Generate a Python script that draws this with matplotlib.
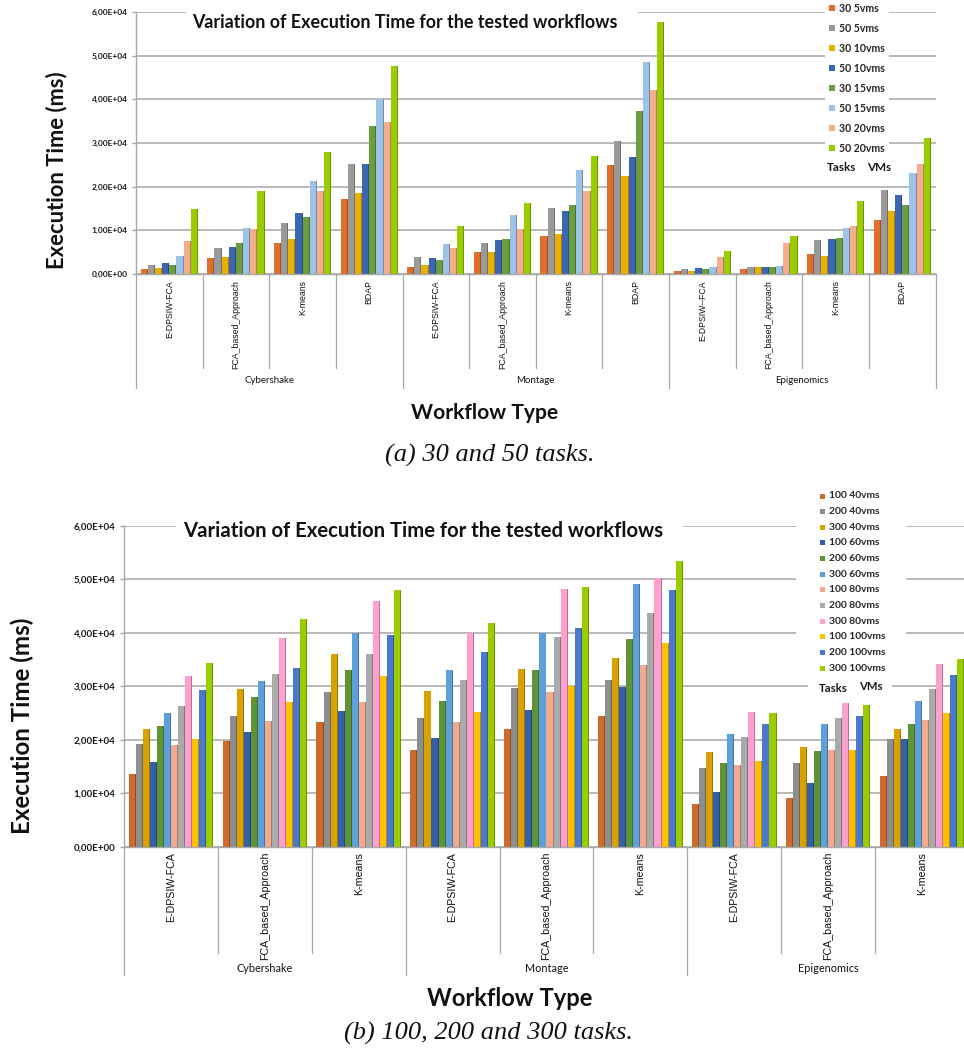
import matplotlib
matplotlib.use("Agg")
import matplotlib.pyplot as plt
from matplotlib.patches import Rectangle
from matplotlib.lines import Line2D
from matplotlib.ticker import FixedLocator, FuncFormatter
from matplotlib.colors import to_rgb
import numpy as np

W, H = 964, 1048

# ---------------------------------------------------------------- data
workflows = ["Cybershake", "Montage", "Epigenomics"]

algos_a = ["E-DPSIW-FCA", "FCA_based_Approach", "K-means", "BDAP",
           "E-DPSIW-FCA", "FCA_based_Approach", "K-means", "BDAP",
           "E-DPSIW--FCA", "FCA_based_Approach", "K-means", "BDAP"]
algos_b = ["E-DPSIW-FCA", "FCA_based_Approach", "K-means",
           "E-DPSIW-FCA", "FCA_based_Approach", "K-means",
           "E-DPSIW-FCA", "FCA_based_Approach", "K-means"]

# (a) 30 and 50 tasks -- execution time in ms
labels_a = ["30 5vms", "50 5vms", "30 10vms", "50 10vms",
            "30 15vms", "50 15vms", "30 20vms", "50 20vms"]
t30_5 = [1100, 3700, 7000, 17100, 1600, 5100, 8600, 24900, 700, 1100, 4500, 12300]
t50_5 = [2000, 6000, 11600, 25100, 4000, 7000, 15100, 30400, 1200, 1500, 7700, 19300]
t30_10 = [1450, 4000, 8100, 18500, 2000, 5100, 9200, 22400, 700, 1500, 4200, 14400]
t50_10 = [2600, 6200, 13900, 25100, 3700, 7700, 14500, 26700, 1300, 1600, 8000, 18100]
t30_15 = [2000, 7000, 13000, 34000, 3100, 8100, 15900, 37400, 1100, 1500, 8200, 15800]
t50_15 = [4200, 10500, 21300, 40000, 6900, 13500, 23800, 48600, 1500, 1800, 10500, 23200]
t30_20 = [7600, 10200, 19000, 34800, 6000, 10200, 18900, 42200, 3900, 7100, 11100, 25200]
t50_20 = [14800, 19000, 27900, 47600, 11100, 16200, 27000, 57700, 5200, 8700, 16800, 31100]
values_a = [t30_5, t50_5, t30_10, t50_10, t30_15, t50_15, t30_20, t50_20]
colors_a = ["#DF6F2A", "#9A9A9A", "#E8B000", "#3A66B2",
            "#6B9E3E", "#9DC3E6", "#F4AE8C", "#9ACD00"]

# (b) 100, 200 and 300 tasks -- execution time in ms
labels_b = ["100 40vms", "200 40vms", "300 40vms", "100 60vms",
            "200 60vms", "300 60vms", "100 80vms", "200 80vms",
            "300 80vms", "100 100vms", "200 100vms", "300 100vms"]
t100_40 = [13600, 19800, 23400, 18200, 22100, 24500, 8000, 9200, 13300]
t200_40 = [19200, 24500, 29000, 24000, 29600, 31200, 14800, 15600, 20100]
t300_40 = [22100, 29500, 36000, 29200, 33200, 35300, 17700, 18600, 22100]
t100_60 = [15800, 21500, 25400, 20300, 25500, 29800, 10300, 11900, 20100]
t200_60 = [22600, 28000, 33000, 27300, 33000, 38900, 15700, 17900, 23000]
t300_60 = [25000, 31000, 40000, 33100, 40000, 49100, 21100, 22900, 27200]
t100_80 = [19000, 23500, 27000, 23400, 28900, 34000, 15400, 18100, 23700]
t200_80 = [26400, 32300, 36000, 31200, 39300, 43700, 20600, 24000, 29500]
t300_80 = [32000, 39000, 46000, 40000, 48100, 50200, 25200, 26900, 34100]
t100_100 = [20100, 27000, 32000, 25200, 30000, 38100, 16100, 18100, 25100]
t200_100 = [29300, 33500, 39600, 36400, 40900, 47900, 22900, 24500, 32100]
t300_100 = [34300, 42500, 48000, 41900, 48500, 53500, 25000, 26600, 35100]
values_b = [t100_40, t200_40, t300_40, t100_60, t200_60, t300_60,
            t100_80, t200_80, t300_80, t100_100, t200_100, t300_100]
colors_b = ["#CE6A2C", "#8E8E8E", "#D9A200", "#3360A8", "#5F9436", "#5EA0DC",
            "#F2AA8E", "#AAAAAA", "#FF9FD0", "#FFC000", "#4A78CC", "#9ACD00"]

yticks = [0, 10000, 20000, 30000, 40000, 50000, 60000]

TITLE = "Variation of Execution Time for the tested workflows"
BOLD = ["Lato", "DejaVu Sans"]
SERIF = ["Liberation Serif", "DejaVu Serif"]
GRID = "#ADADAD"
SEP = "#A8A8A8"


def fx(px):
    return px / W


def fy(py):
    return 1 - py / H


def sci_comma(v, pos=None):
    return "{:.2E}".format(v).replace(".", ",")


def shade(c, f=0.72):
    r, g, b = to_rgb(c)
    return (r * f, g * f, b * f)


fig = plt.figure(figsize=(W / 100, H / 100), dpi=100)
fig.patch.set_facecolor("white")


def panel(left, right, top, bottom, values, colors, algos, fill, tick_fs,
          algo_fs, lab_top, algo_sep_end, grp_sep_end, grp_y, grp_fs):
    ax = fig.add_axes([fx(left), fy(bottom), fx(right - left), (bottom - top) / H])
    n_groups = len(algos)
    n_series = len(values)
    w = fill / n_series
    x = np.arange(n_groups)
    for k, (vals, c) in enumerate(zip(values, colors)):
        off = (k - (n_series - 1) / 2) * w
        ax.bar(x + off, vals, width=w, color=c, edgecolor="none", zorder=2)
        # darker right-hand rim gives the bars their bevelled look
        ax.bar(x + off + w * 0.43, vals, width=w * 0.14, color=shade(c),
               edgecolor="none", zorder=2.1)
    ax.set_xlim(-0.5, n_groups - 0.5)
    ax.set_ylim(0, 60000)
    ax.yaxis.set_major_locator(FixedLocator(yticks))
    ax.yaxis.set_major_formatter(FuncFormatter(sci_comma))
    ax.grid(axis="y", color=GRID, lw=1.2, zorder=0)
    ax.set_axisbelow(True)
    ax.set_xticks([])
    for s in ["top", "right"]:
        ax.spines[s].set_visible(False)
    for s in ["left", "bottom"]:
        ax.spines[s].set_color(SEP)
        ax.spines[s].set_linewidth(1.0)
    ax.tick_params(axis="y", length=3, width=1, color=SEP, pad=3,
                   labelsize=tick_fs, labelcolor="#1a1a1a")
    for t in ax.get_yticklabels():
        t.set_fontfamily(BOLD)
        t.set_fontweight("bold")

    # multi-level category axis
    gw = (right - left) / n_groups
    for i, name in enumerate(algos):
        fig.text(fx(left + gw * (i + 0.5)), fy(lab_top), name, rotation=90,
                 ha="center", va="top", fontsize=algo_fs,
                 family=["Liberation Sans", "DejaVu Sans"], color="#111111")
    per = n_groups // len(workflows)
    for k in range(n_groups + 1):
        xx = left + gw * k
        end = grp_sep_end if k % per == 0 else algo_sep_end
        fig.add_artist(Line2D([fx(xx), fx(xx)], [fy(bottom), fy(end)],
                              color=SEP, lw=0.9))
    for j, wf in enumerate(workflows):
        fig.text(fx(left + gw * per * (j + 0.5)), fy(grp_y), wf, ha="center",
                 va="center", fontsize=grp_fs, family=BOLD, color="#111111")
    return ax


def legend_block(ax, box, labels, colors, mx, tx, y0, dy, fs, sq, tasks_box,
                 tasks_xy, vms_xy, tfs):
    x0, y_top, x1, y_bot = box
    ax.add_patch(Rectangle((fx(x0), fy(y_bot)), fx(x1 - x0), (y_bot - y_top) / H,
                           transform=fig.transFigure, facecolor="white",
                           edgecolor="none", zorder=3, clip_on=False))
    bx0, by0, bx1, by1 = tasks_box
    ax.add_patch(Rectangle((fx(bx0), fy(by1)), fx(bx1 - bx0), (by1 - by0) / H,
                           transform=fig.transFigure, facecolor="white",
                           edgecolor="none", zorder=3, clip_on=False))
    for k, (lab, c) in enumerate(zip(labels, colors)):
        yy = y0 + dy * k
        ax.add_patch(Rectangle((fx(mx - sq / 2), fy(yy + sq / 2)), fx(sq), sq / H,
                               transform=fig.transFigure, facecolor=c,
                               edgecolor="none", zorder=4, clip_on=False))
        ax.text(fx(tx), fy(yy), lab, transform=fig.transFigure, ha="left",
                va="center", fontsize=fs, family=BOLD, fontweight="bold",
                color="#262626", zorder=5)
    ax.text(fx(tasks_xy[0]), fy(tasks_xy[1]), "Tasks", transform=fig.transFigure,
            ha="left", va="center", fontsize=tfs, family=BOLD, fontweight="bold",
            color="#1a1a1a", zorder=5)
    ax.text(fx(vms_xy[0]), fy(vms_xy[1]), "VMs", transform=fig.transFigure,
            ha="left", va="center", fontsize=tfs, family=BOLD, fontweight="bold",
            color="#1a1a1a", zorder=5)


# ------------------------------------------------------------ panel (a)
ax1 = panel(136, 935.5, 12, 274, values_a, colors_a, algos_a, 0.86, 6.0,
            6.3, 280, 368, 388, 381, 7.0)
ax1.add_patch(Rectangle((fx(186), fy(36)), fx(452), 30 / H,
                        transform=fig.transFigure, facecolor="white",
                        edgecolor="none", zorder=3, clip_on=False))
fig.text(fx(405), fy(23), TITLE, ha="center", va="center", fontsize=12.9,
         family=BOLD, fontweight="bold", color="#111111", zorder=6)
legend_block(ax1, (825, 0, 889, 158), labels_a, colors_a, 832, 839, 8, 20,
             7.6, 6, (825, 158, 897, 180), (827, 168), (867, 168), 8.4)
fig.text(fx(57), fy(170), "Execution Time (ms)", rotation=90, ha="center",
         va="center", fontsize=15.8, family=BOLD, fontweight="bold",
         color="#111111")
fig.text(fx(485), fy(413), "Workflow Type", ha="center", va="center",
         fontsize=15.1, family=BOLD, fontweight="bold", color="#111111")
fig.text(fx(490), fy(455), "(a) 30 and 50 tasks.", ha="center", va="center",
         fontsize=19, family=SERIF, style="italic", color="#111111")

# ------------------------------------------------------------ panel (b)
ax2 = panel(124, 969, 525.7, 847, values_b, colors_b, algos_b, 0.9, 7.0,
            7.7, 852, 953, 975, 968, 7.8)
ax2.add_patch(Rectangle((fx(176), fy(546)), fx(507), 36 / H,
                        transform=fig.transFigure, facecolor="white",
                        edgecolor="none", zorder=3, clip_on=False))
fig.text(fx(423), fy(531), TITLE, ha="center", va="center", fontsize=14.6,
         family=BOLD, fontweight="bold", color="#111111", zorder=6)
legend_block(ax2, (796, 482, 906, 676), labels_b, colors_b, 822, 829, 496,
             15.65, 7.4, 5, (808, 676, 892, 697), (819, 688), (859, 686), 8.2)
fig.text(fx(22), fy(726), "Execution Time (ms)", rotation=90, ha="center",
         va="center", fontsize=17.4, family=BOLD, fontweight="bold",
         color="#111111")
fig.text(fx(510), fy(999), "Workflow Type", ha="center", va="center",
         fontsize=17, family=BOLD, fontweight="bold", color="#111111")
fig.text(fx(489), fy(1033), "(b) 100, 200 and 300 tasks.", ha="center",
         va="center", fontsize=19, family=SERIF, style="italic",
         color="#111111")

fig.savefig("out.png", dpi=100, facecolor="white")
